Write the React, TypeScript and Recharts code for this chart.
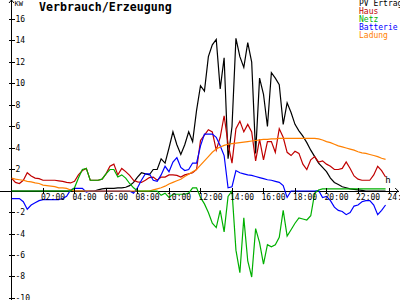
import React from 'react';
import { LineChart, Line, XAxis, YAxis, ReferenceLine, ReferenceDot } from 'recharts';

// quarter-hour grid, 00:00 .. 23:45
const hours = Array.from({ length: 96 }, (_, i) => i / 4);

const pvErtrag = [
  0, 0, 0, 0, 0, 0, 0, 0, 0, 0, 0, 0, 0, 0, 0, 0, 0, 0, 0, 0, 0, 0,
  0.1, 0.2, 0.25, 0.25, 0.25, 0.3, 0.3, 0.35, 0.5, 0.8, 1.3, 1.7, 1.6, 1.5,
  2.0, 2.0, 3.0, 2.6, 4.0, 5.5, 4.3, 3.4, 4.3, 5.5, 4.6, 7.5,
  9.8, 9.3, 12.5, 13.6, 14.1, 9.5, 12.4, 3.0, 6.0, 14.2, 12.5, 11.5,
  13.8, 12.0, 3.5, 10.5, 9.0, 6.0, 11.0, 10.5, 9.9, 6.2, 8.2, 7.3,
  6.2, 5.6, 5.1, 4.5, 3.8, 3.2, 2.6, 2.2, 1.8, 1.2, 0.8, 0.6,
  0.4, 0.3, 0.2, 0.15, 0.1, 0.05, 0, 0, 0, 0, 0, 0,
];

const haus = [
  1.2, 0.8, 0.7, 1.0, 1.7, 1.4, 1.2, 1.15, 1.0, 1.0, 1.0, 1.0,
  0.95, 0.9, 0.8, 0.75, 0.9, 1.5, 1.9, 2.1, 1.0, 1.0, 1.0, 1.1,
  1.6, 2.3, 2.5, 1.5, 2.1, 1.8, 1.45, 1.0, 0.85, 0.8, 1.0, 1.25,
  1.3, 1.0, 1.3, 1.3, 1.5, 1.5, 1.45, 1.3, 1.5, 1.6, 1.7, 2.0,
  4.7, 5.2, 5.7, 5.5, 3.8, 5.0, 7.0, 4.4, 2.6, 5.8, 6.5, 5.5,
  6.2, 5.5, 2.8, 4.8, 2.9, 4.6, 4.6, 3.6, 5.8, 5.0, 3.6, 3.3,
  3.7, 3.5, 2.5, 2.0, 2.9, 3.2, 2.7, 2.8, 2.5, 2.3, 2.0, 2.0,
  2.1, 2.7, 2.1, 1.4, 1.1, 1.0, 1.0, 1.0, 1.5, 2.3, 1.9, 1.3,
];

const netz = [
  0, 0, 0, 0, 0, 0, 0, 0, 0, 0, 0, 0, 0, 0, 0, 0,
  0.3, 1.2, 2.0, 2.1, 1.0, 1.0, 1.0, 1.1, 1.6, 2.0, 2.0, 1.3, 1.5, 1.2, 0.7, 0.3,
  0, 0, 0, 0, 0, 0,
  -0.4, -0.2, -0.6, -0.3, -0.3, -0.3, -0.3, -0.2, 0.3, 0.3,
  -0.6, -1.2, -2.0, -3.0, -3.4, -1.8, -3.8, -0.5, 0.0, -5.5, -7.6, -2.5,
  -6.5, -8.0, -3.5, -4.8, -6.8, -5.0, -5.2, -5.0, -4.3, -1.8, -4.2, -3.6,
  -3.0, -2.5, -2.6, -2.7, -2.3, -0.2, 0.1,
  0.2, 0.2, 0.2, 0.2, 0.2, 0.2, 0.2, 0.2, 0.2, 0.2, 0.2, 0.2, 0.2, 0.2, 0.2, 0.2, 0.2,
];

const batterie = [
  -0.7, -0.7, -0.7, -1.0, -1.7, -1.3, -1.1, -0.9, -0.8, -0.8, -0.8, -0.8,
  -0.8, -0.7, -0.5, 0.1, 0.25, 0.25, 0.25, -0.1, 0, 0, 0, 0,
  0, 0, 0, 0, 0, 0, 0, -0.2, 0.3, 1.0, 1.6, 1.6,
  1.0, 0.9, 1.5, 2.3, 1.8, 2.7, 3.1, 2.2, 1.9, 2.0, 2.6, 2.6,
  4.2, 5.3, 5.3, 5.3, 5.0, 4.2, 3.3, 0.3, 0.4, 1.9, 1.7, 1.6,
  1.5, 1.45, 1.35, 1.25, 1.15, 1.05, 1.0, 0.9, 0.8, 0.5, -0.6, 0,
  0, 0, 0, 0, 0, 0, 0.05, -0.6, -0.5, -0.9, -1.5, -1.8,
  -1.9, -2.2, -2.0, -1.4, -1.3, -1.0, -0.9, -0.9, -1.3, -2.2, -1.8, -1.3,
];

const ladung = [
  1.2, 1.1, 1.05, 1.0, 0.9, 0.85, 0.75, 0.7, 0.55, 0.5, 0.45, 0.4,
  0.3, 0.3, 0.25, 0.1, 0, 0, 0, 0, 0, 0, 0, 0,
  0, 0, 0, 0, 0, 0, 0, 0, 0, 0, 0, 0,
  0.1, 0.2, 0.3, 0.45, 0.65, 0.8, 0.95, 1.1, 1.35, 1.55, 1.8, 2.0,
  2.4, 2.8, 3.2, 3.6, 3.9, 4.1, 4.25, 4.35, 4.4, 4.45, 4.5, 4.55,
  4.6, 4.65, 4.7, 4.75, 4.8, 4.8, 4.85, 4.85, 4.9, 4.9, 4.9, 4.9,
  4.9, 4.9, 4.9, 4.9, 4.9, 4.9, 4.85, 4.75, 4.6, 4.5, 4.35, 4.2,
  4.1, 4.0, 3.9, 3.8, 3.65, 3.55, 3.5, 3.4, 3.3, 3.2, 3.05, 2.95,
];

const xTicks = [2, 4, 6, 8, 10, 12, 14, 16, 18, 20, 22, 24];
const xTickLabels = ['02:00', '04:00', '06:00', '08:00', '10:00', '12:00', '14:00', '16:00', '18:00', '20:00', '22:00', '24:00'];
const yTicks = [16, 14, 12, 10, 8, 6, 4, 2, -2, -4, -6, -8, -10];

const series = [
  { key: 'pv', name: 'PV Ertrag', color: '#000000' },
  { key: 'haus', name: 'Haus', color: '#c00000' },
  { key: 'batterie', name: 'Batterie', color: '#0000ff' },
  { key: 'ladung', name: 'Ladung', color: '#ff8000' },
  { key: 'netz', name: 'Netz', color: '#00b000' },
];
const legendOrder = ['pv', 'haus', 'netz', 'batterie', 'ladung'];

const data = hours.map((h, i) => ({
  h,
  pv: pvErtrag[i],
  haus: haus[i],
  netz: netz[i],
  batterie: batterie[i],
  ladung: ladung[i],
}));

const FONT = '"DejaVu Sans Mono", monospace';

export default function App() {
  return (
    <div style={{ position: 'absolute', left: 0, top: 0, width: 400, height: 300, overflow: 'hidden', background: '#fff' }}>
      <LineChart width={400} height={300} data={data} margin={{ top: 0, right: 10.5, left: 11.5, bottom: 0 }}>
        <XAxis dataKey="h" type="number" domain={[0, 24]} allowDataOverflow hide />
        <YAxis type="number" domain={[-10.14, 17.77]} allowDataOverflow hide />

        <ReferenceLine x={0} stroke="#000" strokeWidth={1} shapeRendering="crispEdges" />
        <ReferenceLine
          segment={[{ x: -0.73, y: 0 }, { x: 24.6, y: 0 }]}
          ifOverflow="visible"
          stroke="#000"
          strokeWidth={1}
          shapeRendering="crispEdges"
        />

        {yTicks.map((v) => (
          <ReferenceDot
            key={`y${v}`}
            x={0}
            y={v}
            ifOverflow="visible"
            shape={(p: any) => (
              <g>
                <line x1={p.cx - 3} y1={p.cy} x2={p.cx + 3} y2={p.cy} stroke="#000" shapeRendering="crispEdges" />
                <text x={p.cx + 4} y={p.cy} dominantBaseline="central" fontFamily={FONT} fontSize={8} fill="#000">{v}</text>
              </g>
            )}
          />
        ))}

        {xTicks.map((t, i) => (
          <ReferenceDot
            key={`x${t}`}
            x={t}
            y={0}
            ifOverflow="visible"
            shape={(p: any) => (
              <g>
                <line x1={p.cx} y1={p.cy - 3} x2={p.cx} y2={p.cy + 3} stroke="#000" shapeRendering="crispEdges" />
                <text x={p.cx - 2} y={p.cy + 6} dominantBaseline="central" fontFamily={FONT} fontSize={8} fill="#000">{xTickLabels[i]}</text>
              </g>
            )}
          />
        ))}

        {/* axis arrows and units */}
        <ReferenceDot
          x={0}
          y={17.77}
          ifOverflow="visible"
          shape={(p: any) => (
            <g>
              <polyline points={`${p.cx - 2.5},${p.cy + 3} ${p.cx},${p.cy} ${p.cx + 2.5},${p.cy + 3}`} fill="none" stroke="#000" />
              <text x={p.cx + 3} y={p.cy + 4} dominantBaseline="central" fontFamily={FONT} fontSize={7} fill="#000">KW</text>
            </g>
          )}
        />
        <ReferenceDot
          x={24.55}
          y={0}
          ifOverflow="visible"
          shape={(p: any) => (
            <g>
              <polyline points={`${p.cx - 3},${p.cy - 3} ${p.cx},${p.cy} ${p.cx - 3},${p.cy + 3}`} fill="none" stroke="#000" />
              <text x={p.cx - 13} y={p.cy - 11} dominantBaseline="central" fontFamily={FONT} fontSize={9} fill="#000">h</text>
            </g>
          )}
        />

        {series.map((s) => (
          <Line
            key={s.key}
            type="linear"
            dataKey={s.key}
            name={s.name}
            stroke={s.color}
            strokeWidth={1.2}
            dot={false}
            isAnimationActive={false}
          />
        ))}
      </LineChart>

      <div style={{ position: 'absolute', left: 39, top: 0, fontFamily: FONT, fontWeight: 'bold', fontSize: 11.6, lineHeight: '15px', color: '#000' }}>
        Verbrauch/Erzeugung
      </div>
      <div style={{ position: 'absolute', left: 359, top: 0, fontFamily: FONT, fontSize: 8, lineHeight: '8px', whiteSpace: 'nowrap' }}>
        {legendOrder.map((k) => {
          const s = series.find((x) => x.key === k)!;
          return (
            <div key={k} style={{ color: s.color, height: 8 }}>{s.name}</div>
          );
        })}
      </div>
    </div>
  );
}
